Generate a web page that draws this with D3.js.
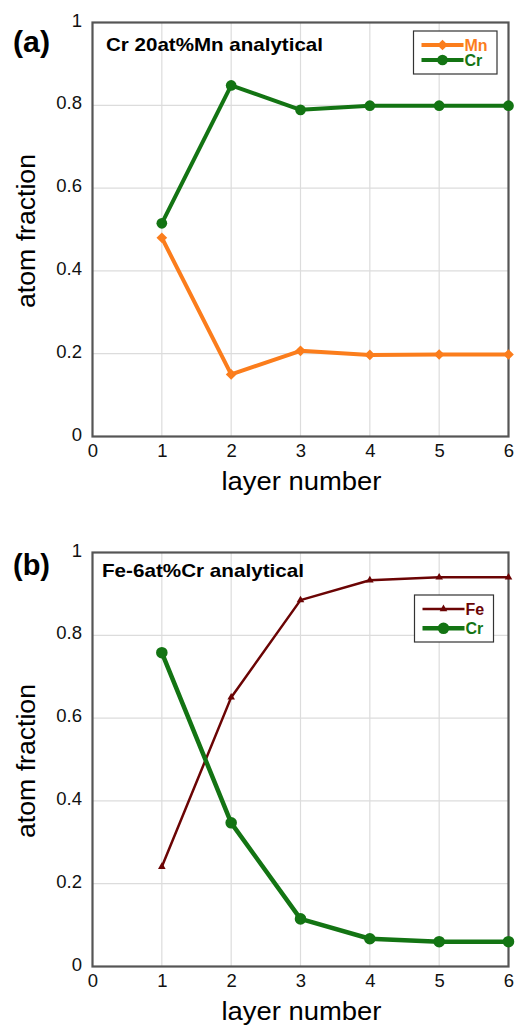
<!DOCTYPE html>
<html>
<head>
<meta charset="utf-8">
<script src="https://cdn.jsdelivr.net/npm/d3@7"></script>
<style>
  body { margin: 0; background: #fff; }
  svg { font-family: "Liberation Sans", Arial, sans-serif; }
</style>
</head>
<body>
<div id="chart"></div>
<script>
// dane
var layers = [1, 2, 3, 4, 5, 6];
var xTicks = [0, 1, 2, 3, 4, 5, 6];
var yTicks = [0, 0.2, 0.4, 0.6, 0.8, 1];
var yTickLabels = ["0", "0.2", "0.4", "0.6", "0.8", "1"];

var mnA = [0.48, 0.150, 0.207, 0.197, 0.198, 0.198];
var crA = [0.515, 0.848, 0.789, 0.799, 0.799, 0.799];
var feB = [0.241, 0.650, 0.885, 0.933, 0.940, 0.940];
var crB = [0.758, 0.347, 0.115, 0.067, 0.060, 0.060];

var orange = "#fb7d1c", green = "#137413", darkred = "#6b0404";

var svg = d3.select("#chart").append("svg")
  .attr("width", 515).attr("height", 1029);

var x = d3.scaleLinear().domain([0, 6]).range([92.5, 508.5]);

function panel(opt) {
  var top = opt.top, bottom = opt.bottom;
  var y = d3.scaleLinear().domain([0, 1]).range([bottom, top]);
  var g = svg.append("g");

  // siatka
  g.append("g").selectAll("line").data(xTicks.slice(1, -1)).enter().append("line")
    .attr("x1", function (d) { return x(d); }).attr("x2", function (d) { return x(d); })
    .attr("y1", top).attr("y2", bottom)
    .style("stroke", "#dcdcdc").style("stroke-width", 1.2);
  g.append("g").selectAll("line").data(yTicks.slice(1, -1)).enter().append("line")
    .attr("x1", x(0)).attr("x2", x(6))
    .attr("y1", function (d) { return y(d); }).attr("y2", function (d) { return y(d); })
    .style("stroke", "#dcdcdc").style("stroke-width", 1.2);

  // osie
  var ax = g.append("g").attr("transform", "translate(0," + bottom + ")")
    .call(d3.axisBottom(x).tickValues(xTicks).tickSize(0).tickPadding(7.5).tickFormat(d3.format("d")));
  var ay = g.append("g").attr("transform", "translate(" + x(0) + ",0)")
    .call(d3.axisLeft(y).tickValues(yTicks).tickSize(0).tickPadding(10.5)
      .tickFormat(function (d, i) { return yTickLabels[i]; }));
  [ax, ay].forEach(function (a) {
    a.select(".domain").remove();
    a.selectAll("text").style("font-size", "18.5px").style("fill", "#111")
      .style("font-family", "'Liberation Sans', Arial, sans-serif");
  });
  ay.selectAll(".tick text").attr("dy", "0.19em");

  // ramka
  g.append("rect").attr("x", x(0)).attr("y", top)
    .attr("width", x(6) - x(0)).attr("height", bottom - top)
    .style("fill", "none").style("stroke", "#555").style("stroke-width", 2.2);

  g.append("text").attr("x", 301.5).attr("y", bottom + 53.5)
    .attr("text-anchor", "middle").style("font-size", "25px")
    .attr("textLength", 160).attr("lengthAdjust", "spacingAndGlyphs").text("layer number");
  g.append("text").attr("transform", "translate(35," + ((top + bottom) / 2 + 1.5) + ") rotate(-90)")
    .attr("text-anchor", "middle").style("font-size", "25px")
    .attr("textLength", 154).attr("lengthAdjust", "spacingAndGlyphs").text("atom fraction");

  g.append("text").attr("x", 13).attr("y", opt.labelY)
    .style("font-size", "29px").style("font-weight", "bold")
    .attr("textLength", 37).attr("lengthAdjust", "spacingAndGlyphs").text(opt.label);
  g.append("text").attr("x", opt.titleX).attr("y", opt.titleY)
    .style("font-size", "18.5px").style("font-weight", "bold")
    .attr("textLength", opt.titleW).attr("lengthAdjust", "spacingAndGlyphs").text(opt.title);

  // serie
  opt.series.forEach(function (s) {
    var line = d3.line().x(function (d, i) { return x(layers[i]); }).y(function (d) { return y(d); });
    g.append("path").datum(s.values).attr("d", line)
      .style("fill", "none").style("stroke", s.color).style("stroke-width", s.width)
      .style("stroke-linejoin", "round");
    g.append("g").selectAll("path").data(s.values).enter().append("path")
      .attr("d", d3.symbol().type(s.symbol).size(s.size))
      .attr("transform", function (d, i) { return "translate(" + x(layers[i]) + "," + y(d) + ")" + (s.symbol === d3.symbolSquare ? " rotate(45)" : ""); })
      .style("fill", s.color);
  });

  // legenda
  var b = opt.legend;
  var lg = g.append("g");
  lg.append("rect").attr("x", b[0]).attr("y", b[1])
    .attr("width", b[2]).attr("height", b[3])
    .style("fill", "#fff").style("stroke", "#333").style("stroke-width", 1.2);
  opt.series.forEach(function (s, i) {
    var ly = b[1] + 14 + i * opt.legendStep;
    lg.append("line").attr("x1", b[0] + 8).attr("x2", b[0] + 50)
      .attr("y1", ly).attr("y2", ly).style("stroke", s.color).style("stroke-width", s.width);
    lg.append("path").attr("d", d3.symbol().type(s.symbol).size(s.size))
      .attr("transform", "translate(" + (b[0] + 29) + "," + ly + ")" + (s.symbol === d3.symbolSquare ? " rotate(45)" : ""))
      .style("fill", s.color);
    lg.append("text").attr("x", b[0] + 51).attr("y", ly).attr("dy", "0.36em")
      .style("font-size", "16px").style("font-weight", "bold").style("fill", s.color).text(s.name);
  });
}

panel({
  top: 22.5, bottom: 436.5, label: "(a)", labelY: 52, title: "Cr 20at%Mn analytical",
  titleX: 106, titleY: 50.5, titleW: 217,
  series: [
    { name: "Mn", values: mnA, color: orange, width: 4, symbol: d3.symbolSquare, size: 57 },
    { name: "Cr", values: crA, color: green, width: 4, symbol: d3.symbolCircle, size: 90 }
  ],
  legend: [413.5, 31, 83.5, 43], legendStep: 15
});

panel({
  top: 552.5, bottom: 966.5, label: "(b)", labelY: 575, title: "Fe-6at%Cr analytical",
  titleX: 102, titleY: 576.5, titleW: 202,
  series: [
    { name: "Fe", values: feB, color: darkred, width: 2.5, symbol: d3.symbolTriangle, size: 25 },
    { name: "Cr", values: crB, color: green, width: 4.5, symbol: d3.symbolCircle, size: 105 }
  ],
  legend: [414.5, 595, 79, 47], legendStep: 19.3
});
</script>
</body>
</html>
